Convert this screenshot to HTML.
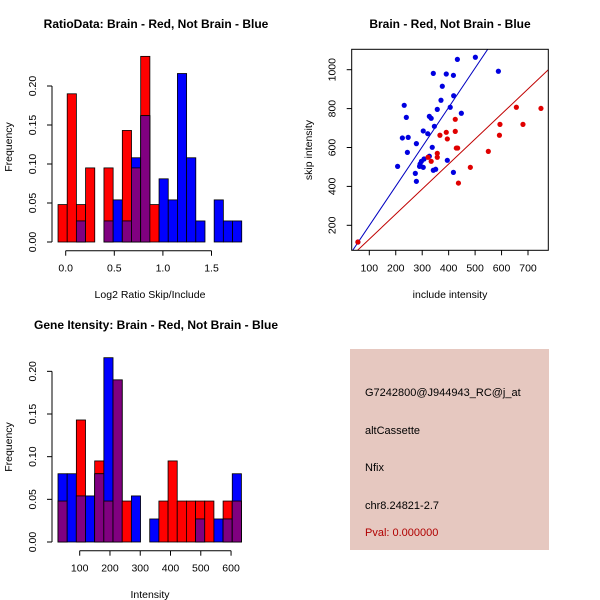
<!DOCTYPE html>
<html><head><meta charset="utf-8"><style>
body{margin:0;background:#fff;}
svg{display:block;font-family:"Liberation Sans",sans-serif;}
</style></head><body>
<svg id="c" width="600" height="600" viewBox="0 0 600 600">
<rect width="600" height="600" fill="#fff"/>
<g id="g1"></g>
<g id="g2"></g>
<g id="g3"></g>
<g>
<rect x="350" y="349" width="199" height="201" fill="#e6c8c0"/>
<text x="365" y="396" font-size="11">G7242800@J944943_RC@j_at</text>
<text x="365" y="434" font-size="11">altCassette</text>
<text x="365" y="471" font-size="11">Nfix</text>
<text x="365" y="509" font-size="11">chr8.24821-2.7</text>
<text x="365" y="536" font-size="11" fill="#b00000">Pval: 0.000000</text>
</g>
</svg>
<script>
// ---- Ratio histogram data ----
const ratioBinStart = -0.079;
const ratioBinWidth = 0.0945;
const ratioRed = [0.048,0.19,0.048,0.095,0,0.095,0,0.143,0.095,0.238,0.048,0,0,0,0,0,0,0,0,0];
const ratioBlue = [0,0,0.027,0,0,0.027,0.054,0.027,0.108,0.162,0,0.081,0.054,0.216,0.108,0.027,0,0.054,0.027,0.027];
const ratioXTicks = [0,0.5,1,1.5];
const ratioXTickLabels = ["0.0","0.5","1.0","1.5"];
const ratioYTicks = [0,0.05,0.1,0.15,0.2];
const ratioYTickLabels = ["0.00","0.05","0.10","0.15","0.20"];
// ---- Intensity histogram data ----
const intBinStart = 28.3;
const intBinWidth = 30.3;
const intRed = [0.048,0,0.143,0,0.095,0.048,0.19,0.048,0,0,0,0.048,0.095,0.048,0.048,0.048,0.048,0,0.048,0.048];
const intBlue = [0.08,0.08,0.054,0.054,0.08,0.216,0.19,0,0.054,0,0.027,0,0,0,0,0.027,0,0.027,0.027,0.08];
const intXTicks = [100,200,300,400,500,600];
const intXTickLabels = ["100","200","300","400","500","600"];
const intYTicks = [0,0.05,0.1,0.15,0.2];
const intYTickLabels = ["0.00","0.05","0.10","0.15","0.20"];
// ---- Scatter data ----
const blueX = [433,501,342,391,418,376,419,371,232,406,448,357,240,327,334,346,304,321,225,247,278,338,244,327,395,207,307,297,292,290,304,342,351,274,418,278,588,57];
const blueY = [1053,1064,981,978,971,915,866,843,817,807,776,796,755,760,750,709,685,671,649,652,620,601,575,555,534,503,541,529,515,503,498,483,488,467,472,426,992,114];
const redX = [425,391,425,367,395,429,434,357,357,334,322,482,437,57,550,594,592,656,681,749];
const redY = [745,678,683,663,644,597,597,570,550,529,550,498,417,114,580,719,663,807,719,801];
const blueFit = [-4,2.025];
const redFit = [0,1.287];
const scXTicks = [100,200,300,400,500,600,700];
const scYTicks = [200,400,600,800,1000];

const NS="http://www.w3.org/2000/svg";
function mk(parent,tag,attrs,name){const e=document.createElementNS(NS,tag);for(const k in attrs)e.setAttribute(k,attrs[k]);


parent.appendChild(e);return e;}
function txt(parent,x,y,s,name,extra){const t=mk(parent,'text',Object.assign({x:x,y:y,'font-size':10.5,'text-anchor':'middle'},extra||{}),name);t.textContent=s;return t;}

function hist(g,cfg){
  const sx=v=>cfg.x0px+(v-cfg.x0)*cfg.kx, sy=v=>cfg.y0px-v*cfg.ky;
  for(let i=0;i<cfg.red.length;i++){
    const xa=sx(cfg.start+i*cfg.w), xb=sx(cfg.start+(i+1)*cfg.w);
    const r=cfg.red[i], b=cfg.blue[i], m=Math.min(r,b);
    if(r>0) mk(g,'rect',{x:xa,y:sy(r),width:xb-xa,height:sy(0)-sy(r),fill:'#ff0000',stroke:'#000','stroke-width':0.8},'red-bar');
    if(b>0) mk(g,'rect',{x:xa,y:sy(b),width:xb-xa,height:sy(0)-sy(b),fill:'#0000ff',stroke:'#000','stroke-width':0.8},'blue-bar');
    if(m>0) mk(g,'rect',{x:xa,y:sy(m),width:xb-xa,height:sy(0)-sy(m),fill:'#800080',stroke:'#000','stroke-width':0.8},'overlap-bar');
  }
  const yt=cfg.yt;
  mk(g,'line',{x1:cfg.yax,x2:cfg.yax,y1:sy(yt[0]),y2:sy(yt[yt.length-1]),stroke:'#000'},'y-axis');
  yt.forEach((v,i)=>{mk(g,'line',{x1:cfg.yax-5,x2:cfg.yax,y1:sy(v),y2:sy(v),stroke:'#000'},'y-tick');
    txt(g,cfg.yax-16,sy(v),cfg.ytl[i],'y-tick-label',{transform:`rotate(-90 ${cfg.yax-16} ${sy(v)})`});});
  const xt=cfg.xt;
  mk(g,'line',{x1:sx(xt[0]),x2:sx(xt[xt.length-1]),y1:cfg.xax,y2:cfg.xax,stroke:'#000'},'x-axis');
  xt.forEach((v,i)=>{mk(g,'line',{x1:sx(v),x2:sx(v),y1:cfg.xax,y2:cfg.xax+5,stroke:'#000'},'x-tick');
    txt(g,sx(v),cfg.xax+21,cfg.xtl[i],'x-tick-label');});
  txt(g,cfg.titleX,cfg.titleY,cfg.title,'chart-title',{'font-weight':'bold','font-size':12});
  txt(g,150,cfg.xlabY,cfg.xlab,'x-axis-title');
  txt(g,12,cfg.ylabY,'Frequency','y-axis-title',{transform:`rotate(-90 12 ${cfg.ylabY})`});
}
hist(document.getElementById('g1'),{x0:0,x0px:65.7,kx:97.2,y0px:242,ky:780,start:ratioBinStart,w:ratioBinWidth,red:ratioRed,blue:ratioBlue,
 yt:ratioYTicks,ytl:ratioYTickLabels,xt:ratioXTicks,xtl:ratioXTickLabels,yax:52,xax:250.7,title:'RatioData: Brain - Red, Not Brain - Blue',titleX:156,titleY:28,xlab:'Log2 Ratio Skip/Include',xlabY:298,ylabY:147});
hist(document.getElementById('g3'),{x0:100,x0px:79.7,kx:0.3027,y0px:542,ky:853.3,start:intBinStart,w:intBinWidth,red:intRed,blue:intBlue,
 yt:intYTicks,ytl:intYTickLabels,xt:intXTicks,xtl:intXTickLabels,yax:52,xax:550.7,title:'Gene Itensity: Brain - Red, Not Brain - Blue',titleX:156,titleY:329,xlab:'Intensity',xlabY:598,ylabY:447});

// scatter
(function(){
  const g=document.getElementById('g2');
  const L=351.7,R=548.3,T=49.3,B=250.3;
  const sx=v=>342.85+v*0.2645, sy=v=>225.3-(v-200)*0.1945;
  const dx=v=>(v-342.85)/0.2645;
  mk(g,'defs',{},'defs').innerHTML='<clipPath id="cp"><rect x="'+L+'" y="'+T+'" width="'+(R-L)+'" height="'+(B-T)+'"/></clipPath>';
  const cg=mk(g,'g',{'clip-path':'url(#cp)'},'plot-area');
  [[blueFit,'#0000c0','blue-fit-line'],[redFit,'#c00000','red-fit-line']].forEach(([f,c,n])=>{
    const x1=dx(L-5),x2=dx(R+5);
    mk(cg,'line',{x1:sx(x1),y1:sy(f[0]+f[1]*x1),x2:sx(x2),y2:sy(f[0]+f[1]*x2),stroke:c,'stroke-width':1},n);});
  blueX.forEach((x,i)=>mk(cg,'circle',{cx:sx(x),cy:sy(blueY[i]),r:2.6,fill:'#0000e0'},'blue-point'));
  redX.forEach((x,i)=>mk(cg,'circle',{cx:sx(x),cy:sy(redY[i]),r:2.6,fill:'#e00000'},'red-point'));
  mk(g,'rect',{x:L,y:T,width:R-L,height:B-T,fill:'none',stroke:'#000'},'plot-frame');
  scXTicks.forEach(v=>{mk(g,'line',{x1:sx(v),x2:sx(v),y1:B,y2:B+5,stroke:'#000'},'x-tick');txt(g,sx(v),B+21,String(v),'x-tick-label');});
  scYTicks.forEach(v=>{mk(g,'line',{x1:L-5,x2:L,y1:sy(v),y2:sy(v),stroke:'#000'},'y-tick');
    txt(g,L-16,sy(v),String(v),'y-tick-label',{transform:`rotate(-90 ${L-16} ${sy(v)})`});});
  txt(g,450,28,'Brain - Red, Not Brain - Blue','chart-title',{'font-weight':'bold','font-size':12});
  txt(g,450,298,'include intensity','x-axis-title');
  txt(g,312,150,'skip intensity','y-axis-title',{transform:'rotate(-90 312 150)'});
})();
</script>
</body></html>
